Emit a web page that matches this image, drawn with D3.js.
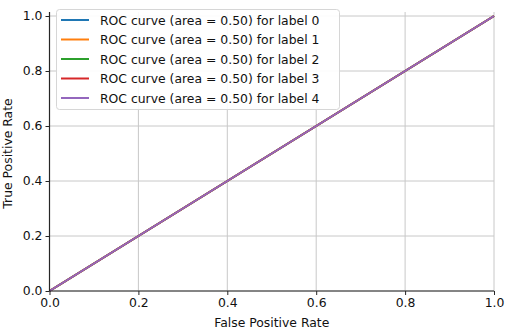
<!DOCTYPE html>
<html>
<head>
<meta charset="utf-8">
<script src="https://cdn.jsdelivr.net/npm/d3@7"></script>
<style>
  body { margin: 0; background: #fff; }
  text { font-family: "DejaVu Sans", sans-serif; }
</style>
</head>
<body>
<script>
// data
var labels = [0, 1, 2, 3, 4];
var areas = [0.50, 0.50, 0.50, 0.50, 0.50];
var fpr = [0, 1];
var tpr = [0, 1];
var colors = ["#1f77b4", "#ff7f0e", "#2ca02c", "#d62728", "#9467bd"];
var ticks = [0, 0.2, 0.4, 0.6, 0.8, 1.0];

var width = 505, height = 330;
var mLeft = 49.5, mRight = 494, mTop = 16, mBottom = 291;
var fs = "12.4px";

var svg = d3.select("body").append("svg").attr("width", width).attr("height", height);

var x = d3.scaleLinear().domain([0, 1]).range([mLeft, mRight]);
var y = d3.scaleLinear().domain([0, 1]).range([mBottom, mTop]);

// grid
svg.append("g").selectAll("line").data(ticks).enter().append("line")
    .attr("x1", function (d) { return x(d) }).attr("x2", function (d) { return x(d) })
    .attr("y1", mTop - 4).attr("y2", mBottom)
    .attr("stroke", "#c8c8c8").attr("stroke-width", 1);
svg.append("g").selectAll("line").data(ticks).enter().append("line")
    .attr("y1", function (d) { return y(d) }).attr("y2", function (d) { return y(d) })
    .attr("x1", mLeft).attr("x2", mRight)
    .attr("stroke", "#c8c8c8").attr("stroke-width", 1);

// curves (last one drawn on top)
var line = d3.line().x(function (d) { return x(d[0]) }).y(function (d) { return y(d[1]) });
labels.forEach(function (l, i) {
    svg.append("path").datum(d3.zip(fpr, tpr))
        .attr("d", line).attr("fill", "none")
        .attr("stroke", colors[i]).attr("stroke-width", 2);
});

// axes
var xAxis = svg.append("g").attr("transform", "translate(0," + mBottom + ")")
    .call(d3.axisBottom(x).tickValues(ticks).tickFormat(d3.format(".1f")).tickSize(4).tickPadding(3.5));
var yAxis = svg.append("g").attr("transform", "translate(" + mLeft + ",0)")
    .call(d3.axisLeft(y).tickValues(ticks).tickFormat(d3.format(".1f")).tickSize(4).tickPadding(3));
[xAxis, yAxis].forEach(function (a) {
    a.select(".domain").attr("stroke", "#262626").attr("stroke-width", 1.2);
    a.selectAll(".tick line").attr("stroke", "#262626");
    a.selectAll(".tick text").attr("fill", "#111").style("font-size", fs).style("font-family", "DejaVu Sans");
});
xAxis.select(".domain").attr("d", "M" + mLeft + ",0H" + mRight);
yAxis.select(".domain").attr("d", "M0," + mBottom + "V" + (mTop - 4));

svg.append("text").attr("x", (mLeft + mRight) / 2).attr("y", 326.5)
    .attr("text-anchor", "middle").style("font-size", fs).attr("fill", "#111")
    .text("False Positive Rate");
svg.append("text").attr("transform", "translate(12," + ((mTop + mBottom) / 2) + ") rotate(-90)")
    .attr("text-anchor", "middle").style("font-size", fs).attr("fill", "#111")
    .text("True Positive Rate");

// legend
var lg = svg.append("g");
lg.append("rect").attr("x", 56.5).attr("y", 9.5).attr("width", 283).attr("height", 100)
    .attr("rx", 3).attr("fill", "white").attr("fill-opacity", 0.9).attr("stroke", "#d6d6d6");
var item = lg.selectAll("g.item").data(labels).enter().append("g")
    .attr("transform", function (d, i) { return "translate(0," + (20 + i * 19.5) + ")" });
item.append("line").attr("x1", 61).attr("x2", 89).attr("y1", 0).attr("y2", 0)
    .attr("stroke", function (d, i) { return colors[i] }).attr("stroke-width", 2);
item.append("text").attr("x", 100).attr("y", 4.5).style("font-size", fs).attr("fill", "#111")
    .text(function (d, i) { return "ROC curve (area = " + areas[i].toFixed(2) + ") for label " + d });
</script>
</body>
</html>
